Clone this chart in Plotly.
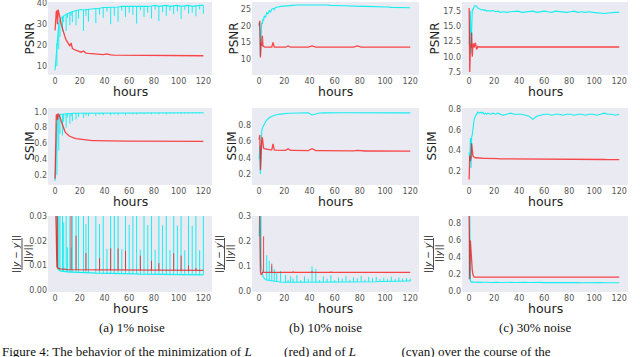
import plotly.graph_objects as go
from plotly.subplots import make_subplots

# shared time axis (hours) for all nine panels
hours = [0, 0.5, 1, 1.5, 2, 2.5, 3, 3.5, 4,
         5, 6, 7, 8, 9, 10, 11, 12, 13, 14, 15,
         17, 19, 21, 23, 25, 27,
         30, 33, 36, 39, 42, 45, 48, 51, 54, 57,
         60, 63, 66, 69, 72, 75, 78, 81, 84, 87,
         90, 93, 96, 99, 102, 105, 108, 111, 114, 117, 120]

# ---- (a) 1% noise ----
psnr_red_1 = [27, 34, 36, 36.5, 30, 37, 36, 35, 33,
              30, 27.5, 25.5, 24, 22.5, 21.5, 20.5, 19.5, 21, 18.5, 18,
              17.5, 17, 16.6, 17.2, 16.2, 16,
              15.8, 15.6, 15.5, 15.4, 15.8, 15.3, 15.2, 15.2, 15.1, 15.1,
              15.0, 15.0, 15.0, 15.0, 14.9, 14.9, 14.9, 14.9, 14.9, 14.9,
              14.9, 14.9, 14.9, 14.9, 14.9, 14.9, 14.9, 14.9, 14.9, 14.9, 14.9]
psnr_cyan_1 = [8, 12, 17, 21, 25, 28, 30, 31, 32,
               33, 33.5, 34, 34.5, 34.8, 35, 35.3, 35.5, 36, 36, 36.2,
               36.5, 36.7, 37, 36.8, 37, 37.2,
               37.5, 37.5, 37.6, 38, 38, 38, 38, 38.2, 38.5, 38.5,
               38.5, 38.5, 38.3, 38.6, 38.5, 38.5, 38.7, 39, 38.5, 38.7,
               39, 38.5, 38.8, 39, 38.5, 38.8, 39, 38.5, 38.8, 39, 39]
psnr_cyan_1_dips = [0, 0, 0, 11, 0, 0, 12, 0, 8,
                    0, 7, 3, 0, 8, 2, 0, 6, 2, 5, 0,
                    7, 4, 0, 10, 3, 6,
                    0, 7, 3, 5, 2, 8, 4, 7, 2, 5,
                    3, 4, 8, 2, 5, 3, 6, 2, 7, 3,
                    5, 2, 4, 3, 6, 2, 4, 3, 5, 2, 4]
ssim_red_1 = [0.15, 0.75, 0.96, 0.97, 0.9, 0.98, 0.97, 0.95, 0.93,
              0.88, 0.82, 0.78, 0.75, 0.73, 0.71, 0.70, 0.69, 0.68, 0.675, 0.67,
              0.66, 0.655, 0.65, 0.645, 0.64, 0.64,
              0.635, 0.635, 0.633, 0.632, 0.63, 0.63, 0.63, 0.629, 0.629, 0.628,
              0.628, 0.628, 0.627, 0.627, 0.627, 0.626, 0.626, 0.626, 0.626, 0.626,
              0.625, 0.625, 0.625, 0.625, 0.625, 0.625, 0.625, 0.625, 0.625, 0.625, 0.625]
ssim_cyan_1 = [0.12, 0.3, 0.6, 0.85, 0.93, 0.95, 0.96, 0.965, 0.97,
               0.97, 0.972, 0.975, 0.978, 0.979, 0.98, 0.98, 0.981, 0.982, 0.982, 0.983,
               0.984, 0.984, 0.985, 0.986, 0.986, 0.986,
               0.987, 0.987, 0.987, 0.988, 0.988, 0.988, 0.988, 0.988, 0.988, 0.989,
               0.989, 0.989, 0.989, 0.99, 0.99, 0.99, 0.99, 0.99, 0.99, 0.99,
               0.99, 0.99, 0.99, 0.99, 0.99, 0.99, 0.99, 0.99, 0.99, 0.99, 0.99]
ssim_cyan_1_dips = [0, 0, 0, 0.65, 0, 0, 0.45, 0, 0.25,
                    0, 0.27, 0.1, 0, 0.18, 0.05, 0, 0.13, 0.04, 0.1, 0,
                    0.08, 0.05, 0, 0.06, 0.03, 0.04,
                    0, 0.04, 0.02, 0.03, 0.01, 0.03, 0.02, 0.03, 0.01, 0.03,
                    0.01, 0.02, 0.02, 0.01, 0.02, 0.01, 0.02, 0.01, 0.02, 0.01,
                    0.02, 0.01, 0.01, 0.01, 0.02, 0.01, 0.01, 0.01, 0.01, 0.01, 0.01]
err_red_1 = [0.05, 0.03, 0.012, 0.0095, 0.009, 0.009, 0.0088, 0.0087, 0.0086,
             0.0085, 0.0085, 0.0084, 0.0084, 0.0084, 0.0083, 0.0083, 0.0083, 0.0083, 0.0083, 0.0082,
             0.0082, 0.0082, 0.0081, 0.0081, 0.0081, 0.0081,
             0.008, 0.008, 0.008, 0.008, 0.008, 0.008, 0.008, 0.008, 0.008, 0.008,
             0.008, 0.008, 0.008, 0.008, 0.008, 0.008, 0.008, 0.008, 0.008, 0.008,
             0.008, 0.008, 0.008, 0.008, 0.008, 0.008, 0.008, 0.008, 0.008, 0.008, 0.008]
err_red_1_spikes = [0, 0, 0, 0, 0.03, 0, 0, 0, 0,
                    0, 0, 0, 0, 0, 0, 0, 0, 0.025, 0, 0,
                    0.014, 0, 0, 0, 0.007, 0,
                    0, 0, 0.005, 0, 0, 0.009, 0, 0.009, 0, 0.008,
                    0, 0, 0, 0.006, 0, 0, 0.004, 0, 0.003, 0,
                    0, 0, 0.007, 0, 0.006, 0, 0.002, 0, 0.001, 0, 0]
err_cyan_1 = [0.05, 0.04, 0.02, 0.012, 0.009, 0.0085, 0.0082, 0.008, 0.0078,
              0.0077, 0.0076, 0.0076, 0.0075, 0.0075, 0.0074, 0.0074, 0.0073, 0.0073, 0.0073, 0.0072,
              0.0072, 0.0071, 0.0071, 0.0071, 0.007, 0.007,
              0.007, 0.0069, 0.0069, 0.0069, 0.0068, 0.0068, 0.0068, 0.0067, 0.0067, 0.0067,
              0.0066, 0.0066, 0.0066, 0.0065, 0.0065, 0.0065, 0.0065, 0.0064, 0.0064, 0.0064,
              0.0064, 0.0063, 0.0063, 0.0063, 0.0063, 0.0062, 0.0062, 0.0062, 0.0062, 0.0062, 0.0062]
err_cyan_1_spikes = [0, 0, 0, 0.05, 0, 0, 0.05, 0, 0.05,
                     0, 0.05, 0.02, 0, 0.05, 0.01, 0, 0.05, 0.01, 0.05, 0,
                     0.05, 0.03, 0, 0.05, 0.02, 0.05,
                     0, 0.05, 0.02, 0.05, 0.01, 0.05, 0.03, 0.05, 0.01, 0.05,
                     0.02, 0.03, 0.05, 0.01, 0.05, 0.02, 0.05, 0.01, 0.05, 0.02,
                     0.05, 0.01, 0.03, 0.02, 0.05, 0.01, 0.03, 0.02, 0.05, 0.01, 0.03]

# ---- (b) 10% noise ----
psnr_red_10 = [20, 21.5, 10.5, 15, 14, 17, 14, 13.8, 13.7,
               13.6, 13.6, 13.6, 13.6, 13.6, 13.6, 15.0, 13.6, 13.6, 13.6, 13.6,
               13.6, 13.6, 13.6, 14.0, 13.6, 13.6,
               13.6, 13.6, 13.6, 13.6, 14.0, 13.6, 13.6, 13.6, 13.6, 13.6,
               13.6, 13.6, 13.6, 13.6, 13.6, 13.6, 14.0, 13.6, 13.6, 13.6,
               13.6, 13.6, 13.6, 13.6, 13.6, 13.6, 13.6, 13.6, 13.6, 13.6, 13.6]
psnr_cyan_10 = [21, 19, 11, 19, 21, 20.5, 22, 21.5, 23,
                22.5, 24, 23.5, 24.6, 24, 25, 25.2, 24.8, 25.5, 25.5, 25.6,
                25.8, 25.9, 26, 26, 26.1, 26.1,
                26.2, 26.2, 26.3, 26.3, 26.3, 26.3, 26.3, 26.4, 26.2, 26.1,
                26.0, 26.0, 26.0, 26.0, 25.9, 25.9, 25.9, 25.8, 25.8, 25.8,
                25.7, 25.7, 25.7, 25.6, 25.6, 25.5, 25.5, 25.4, 25.4, 25.3, 25.4]
ssim_red_10 = [0.62, 0.68, 0.25, 0.55, 0.6, 0.65, 0.53, 0.52, 0.51,
               0.505, 0.5, 0.5, 0.498, 0.497, 0.496, 0.57, 0.495, 0.494, 0.494, 0.493,
               0.492, 0.491, 0.49, 0.51, 0.49, 0.489,
               0.488, 0.488, 0.487, 0.487, 0.51, 0.486, 0.486, 0.485, 0.485, 0.485,
               0.484, 0.484, 0.484, 0.483, 0.483, 0.483, 0.49, 0.482, 0.482, 0.482,
               0.482, 0.481, 0.481, 0.481, 0.481, 0.48, 0.48, 0.48, 0.48, 0.48, 0.48]
ssim_cyan_10 = [0.38, 0.55, 0.2, 0.6, 0.72, 0.76, 0.78, 0.8, 0.82,
                0.84, 0.86, 0.88, 0.89, 0.9, 0.91, 0.915, 0.92, 0.925, 0.93, 0.93,
                0.935, 0.94, 0.94, 0.945, 0.945, 0.947,
                0.95, 0.95, 0.952, 0.952, 0.925, 0.94, 0.948, 0.95, 0.952, 0.953,
                0.953, 0.953, 0.952, 0.952, 0.952, 0.951, 0.951, 0.951, 0.951, 0.95,
                0.95, 0.95, 0.95, 0.95, 0.95, 0.949, 0.949, 0.949, 0.949, 0.948, 0.95]
err_red_10 = [0.35, 0.3, 0.08, 0.065, 0.07, 0.075, 0.075, 0.075, 0.075,
              0.075, 0.075, 0.075, 0.075, 0.075, 0.075, 0.075, 0.075, 0.075, 0.075, 0.075,
              0.075, 0.075, 0.075, 0.075, 0.075, 0.075,
              0.075, 0.075, 0.075, 0.075, 0.075, 0.075, 0.075, 0.075, 0.075, 0.075,
              0.075, 0.075, 0.075, 0.075, 0.075, 0.075, 0.075, 0.075, 0.075, 0.075,
              0.075, 0.075, 0.075, 0.075, 0.075, 0.075, 0.075, 0.075, 0.075, 0.075, 0.075]
err_red_10_spikes = [0, 0, 0, 0, 0, 0, 0, 0.145, 0,
                     0, 0, 0, 0, 0, 0.035, 0, 0, 0, 0, 0,
                     0, 0, 0, 0, 0, 0.006,
                     0, 0, 0, 0, 0.006, 0, 0, 0, 0, 0.005,
                     0, 0, 0, 0, 0, 0, 0, 0, 0, 0,
                     0, 0, 0, 0, 0, 0, 0, 0, 0, 0, 0]
err_cyan_10 = [0.22, 0.35, 0.12, 0.1, 0.09, 0.07, 0.06, 0.055, 0.05,
               0.045, 0.044, 0.043, 0.042, 0.041, 0.04, 0.039, 0.038, 0.037, 0.037, 0.036,
               0.036, 0.035, 0.035, 0.035, 0.035, 0.035,
               0.034, 0.034, 0.034, 0.034, 0.034, 0.034, 0.034, 0.034, 0.034, 0.034,
               0.034, 0.034, 0.035, 0.035, 0.035, 0.035, 0.036, 0.036, 0.036, 0.036,
               0.037, 0.037, 0.038, 0.038, 0.038, 0.038, 0.039, 0.039, 0.04, 0.04, 0.04]
err_cyan_10_spikes = [0, 0, 0, 0.25, 0, 0, 0, 0, 0,
                      0, 0.1, 0, 0.08, 0, 0.06, 0, 0.05, 0, 0.035, 0,
                      0.045, 0, 0.03, 0.01, 0.025, 0.015,
                      0.03, 0.01, 0.025, 0.015, 0.065, 0.055, 0.01, 0.025, 0.015, 0.03,
                      0.01, 0.02, 0.015, 0.025, 0.01, 0.02, 0.015, 0.025, 0.01, 0.02,
                      0.015, 0.02, 0.01, 0.015, 0.01, 0.02, 0.01, 0.015, 0.01, 0.012, 0.01]

# ---- (c) 30% noise ----
psnr_red_30 = [18, 7.5, 12, 11.5, 14, 10, 11.8, 12.2, 11.5,
               12.3, 11.2, 11.7, 11.6, 11.6, 11.6, 11.6, 11.5, 11.6, 11.6, 11.6,
               11.6, 11.6, 11.6, 11.6, 11.6, 11.6,
               11.6, 11.6, 11.6, 11.6, 11.6, 11.6, 11.6, 11.6, 11.6, 11.6,
               11.6, 11.6, 11.6, 11.6, 11.6, 11.6, 11.6, 11.6, 11.6, 11.6,
               11.6, 11.6, 11.6, 11.6, 11.6, 11.6, 11.6, 11.6, 11.6, 11.6, 11.6]
psnr_cyan_30 = [12, 16, 17.5, 10.5, 17.6, 17.8, 17.7, 18.0, 18.2,
                18.4, 18.3, 18.0, 17.9, 17.8, 17.7, 17.8, 17.6, 17.7, 17.5, 17.6,
                17.5, 17.6, 17.4, 17.5, 17.3, 17.4,
                17.3, 17.4, 17.4, 17.5, 17.3, 17.4, 17.4, 17.5, 17.3, 17.4,
                17.5, 17.4, 17.3, 17.5, 17.4, 17.4, 17.3, 17.4, 17.5, 17.3,
                17.4, 17.3, 17.4, 17.3, 17.2, 17.1, 17.1, 17.2, 17.3, 17.3, 17.3]
ssim_red_30 = [0.12, 0.35, 0.3, 0.33, 0.47, 0.36, 0.35, 0.34, 0.335,
               0.33, 0.33, 0.328, 0.327, 0.326, 0.325, 0.325, 0.324, 0.324, 0.323, 0.323,
               0.322, 0.322, 0.321, 0.321, 0.32, 0.32,
               0.319, 0.319, 0.318, 0.318, 0.317, 0.317, 0.317, 0.316, 0.316, 0.316,
               0.316, 0.315, 0.315, 0.315, 0.315, 0.315, 0.314, 0.314, 0.314, 0.314,
               0.314, 0.313, 0.313, 0.313, 0.313, 0.313, 0.313, 0.312, 0.312, 0.312, 0.312]
ssim_cyan_30 = [0.38, 0.3, 0.52, 0.23, 0.53, 0.55, 0.6, 0.65, 0.7,
                0.73, 0.75, 0.77, 0.76, 0.77, 0.76, 0.77, 0.75, 0.76, 0.75, 0.76,
                0.75, 0.76, 0.75, 0.76, 0.75, 0.74,
                0.75, 0.76, 0.75, 0.75, 0.75, 0.74, 0.73, 0.7, 0.73, 0.74,
                0.75, 0.75, 0.74, 0.75, 0.75, 0.74, 0.75, 0.75, 0.74, 0.75,
                0.75, 0.74, 0.75, 0.75, 0.74, 0.75, 0.76, 0.75, 0.75, 0.74, 0.75]
err_red_30 = [0.9, 0.14, 0.6, 0.45, 0.3, 0.25, 0.2, 0.17, 0.165,
              0.165, 0.165, 0.165, 0.165, 0.165, 0.165, 0.165, 0.165, 0.165, 0.165, 0.165,
              0.165, 0.165, 0.165, 0.165, 0.165, 0.165,
              0.165, 0.165, 0.165, 0.165, 0.165, 0.165, 0.165, 0.165, 0.165, 0.165,
              0.165, 0.165, 0.165, 0.165, 0.165, 0.165, 0.165, 0.165, 0.165, 0.165,
              0.165, 0.165, 0.165, 0.165, 0.165, 0.165, 0.165, 0.165, 0.165, 0.165, 0.165]
err_cyan_30 = [0.14, 0.9, 0.12, 0.11, 0.105, 0.11, 0.105, 0.108, 0.105,
               0.107, 0.105, 0.108, 0.104, 0.107, 0.104, 0.106, 0.104, 0.106, 0.104, 0.106,
               0.103, 0.106, 0.103, 0.105, 0.103, 0.105,
               0.103, 0.105, 0.102, 0.105, 0.102, 0.104, 0.102, 0.104, 0.102, 0.104,
               0.101, 0.104, 0.101, 0.103, 0.101, 0.103, 0.101, 0.103, 0.101, 0.103,
               0.1, 0.102, 0.1, 0.102, 0.1, 0.102, 0.1, 0.102, 0.1, 0.101, 0.1]

# rows: PSNR, SSIM, relative error; cols: 1%, 10%, 30% noise
# each entry: (values, spikes up, spikes down)
red_series = [[(psnr_red_1, None, None), (psnr_red_10, None, None), (psnr_red_30, None, None)],
              [(ssim_red_1, None, None), (ssim_red_10, None, None), (ssim_red_30, None, None)],
              [(err_red_1, err_red_1_spikes, None), (err_red_10, err_red_10_spikes, None),
               (err_red_30, None, None)]]
cyan_series = [[(psnr_cyan_1, None, psnr_cyan_1_dips), (psnr_cyan_10, None, None),
                (psnr_cyan_30, None, None)],
               [(ssim_cyan_1, None, ssim_cyan_1_dips), (ssim_cyan_10, None, None),
                (ssim_cyan_30, None, None)],
               [(err_cyan_1, err_cyan_1_spikes, None), (err_cyan_10, err_cyan_10_spikes, None),
                (err_cyan_30, None, None)]]

x_ticks = [0, 20, 40, 60, 80, 100, 120]
y_ticks = [[[10, 20, 30, 40], [10, 15, 20, 25], [7.5, 10.0, 12.5, 15.0, 17.5]],
           [[0.2, 0.4, 0.6, 0.8, 1.0], [0.2, 0.4, 0.6, 0.8], [0.2, 0.4, 0.6, 0.8]],
           [[0.0, 0.01, 0.02, 0.03], [0.0, 0.1, 0.2, 0.3], [0.0, 0.2, 0.4, 0.6, 0.8]]]
y_tick_text = [[["10", "20", "30", "40"], ["10", "15", "20", "25"],
                ["7.5", "10.0", "12.5", "15.0", "17.5"]],
               [["0.2", "0.4", "0.6", "0.8", "1.0"], ["0.2", "0.4", "0.6", "0.8"],
                ["0.2", "0.4", "0.6", "0.8"]],
               [["0.00", "0.01", "0.02", "0.03"], ["0.0", "0.1", "0.2", "0.3"],
                ["0.0", "0.2", "0.4", "0.6", "0.8"]]]
y_ranges = [[[5.7, 40.6], [5.3, 27.1], [7.0, 19.0]],
            [[0.07, 1.05], [0.065, 1.01], [0.067, 0.81]],
            [[-0.0008, 0.0302], [-0.004, 0.302], [-0.01, 0.89]]]
metric_names = ["PSNR", "SSIM", None]
captions = ["(a) 1% noise", "(b) 10% noise", "(c) 30% noise"]

W, H = 640, 357
col_px = [(48, 212), (252, 419), (462, 628)]
row_px = [(2, 75), (108, 185), (216, 292)]
ylabel_px = [[29, 233, 434], [29, 231, 431]]
frac_px = [(16, 22, 28), (219, 224.5, 230), (428, 433.5, 439)]
caption_px = [132, 325, 535]

fig = make_subplots(rows=3, cols=3)

tick_font = dict(family="DejaVu Sans", size=8, color="#555555")
label_font = dict(family="DejaVu Sans", size=12.5, color="#222222")


def add_series(r, c, spec, color, width, opacity):
    values, up, down = spec
    err = None
    if up is not None or down is not None:
        zeros = [0] * len(values)
        err = dict(type="data", symmetric=False,
                   array=up if up is not None else zeros,
                   arrayminus=down if down is not None else zeros,
                   width=0, thickness=1, color=color)
    fig.add_trace(go.Scatter(x=hours, y=values, mode="lines",
                             line=dict(color=color, width=width),
                             error_y=err, opacity=opacity, showlegend=False),
                  row=r + 1, col=c + 1)


def label(x_px, y_px, text, font, angle=0, xanchor="center"):
    fig.add_annotation(x=x_px / W, y=1 - y_px / H, xref="paper", yref="paper",
                       text=text, textangle=angle, showarrow=False, font=font,
                       xanchor=xanchor, yanchor="middle")


for r in range(3):
    for c in range(3):
        add_series(r, c, cyan_series[r][c], "#00f0f0", 1.1, 0.9)
        add_series(r, c, red_series[r][c], "#ff0000", 1.3, 0.7)
        x0, x1 = col_px[c]
        t0, t1 = row_px[r]
        fig.update_xaxes(domain=[x0 / W, x1 / W], range=[-5.7, 127],
                         tickvals=x_ticks, showgrid=False, zeroline=False,
                         showline=False, ticks="", tickfont=tick_font,
                         ticklabeloverflow="allow",
                         automargin=False, row=r + 1, col=c + 1)
        fig.update_yaxes(domain=[1 - t1 / H, 1 - t0 / H], range=y_ranges[r][c],
                         tickvals=y_ticks[r][c], ticktext=y_tick_text[r][c],
                         showgrid=False, zeroline=False, showline=False,
                         ticks="", tickfont=tick_font,
                         ticklabeloverflow="allow",
                         automargin=False, row=r + 1, col=c + 1)
        label((x0 + x1) / 2, t1 + 16, "hours", label_font)
        mid = (t0 + t1) / 2
        if metric_names[r]:
            label(ylabel_px[r][c], mid, metric_names[r],
                  dict(family="DejaVu Sans", size=12, color="#222222"), angle=-90)
        else:
            n_x, l_x, d_x = frac_px[c]
            frac_font = dict(family="DejaVu Sans", size=9, color="#222222")
            label(n_x, mid, "||<i>y</i> − <i>y</i>′||", frac_font, angle=-90)
            label(d_x, mid, "||<i>y</i>||", frac_font, angle=-90)
            fig.add_shape(type="line", xref="paper", yref="paper",
                          x0=l_x / W, x1=l_x / W,
                          y0=1 - (mid + 16) / H, y1=1 - (mid - 16) / H,
                          line=dict(color="#222222", width=0.8))

caption_font = dict(family="Liberation Serif", size=13, color="#111111")
for c in range(3):
    label(caption_px[c], 327, captions[c], caption_font)

label(0, 351, "Figure 4: The behavior of the minimization of <i>L</i>"
              "          (red) and of <i>L</i>              (cyan) over the course of the",
      caption_font, xanchor="left")

fig.update_layout(width=W, height=H, margin=dict(l=0, r=0, t=0, b=0),
                  paper_bgcolor="white", plot_bgcolor="#eaeaf2")

fig.write_html("out.html", config={"displayModeBar": False})

# drop the default page margin so the figure sits at the window's corner
with open("out.html") as f:
    page = f.read()
page = page.replace("<body>", '<body style="margin:0;overflow:hidden">', 1)
with open("out.html", "w") as f:
    f.write(page)
